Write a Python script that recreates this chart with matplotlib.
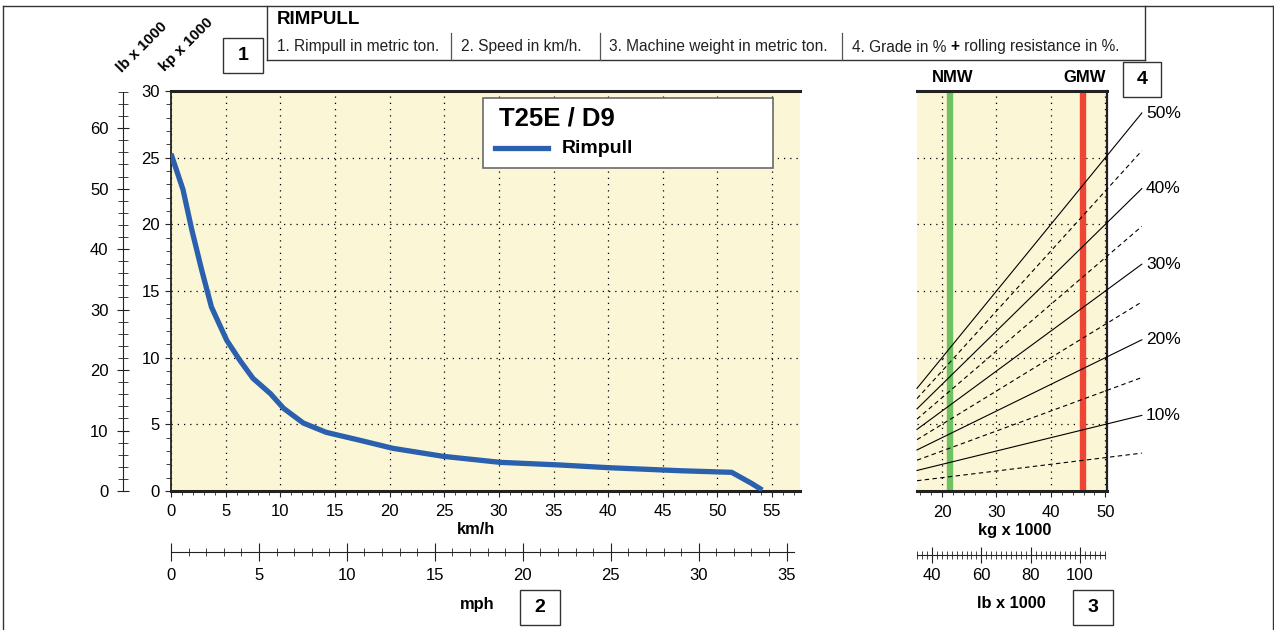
import numpy as np
import matplotlib.pyplot as plt
from matplotlib.lines import Line2D
from matplotlib.patches import Rectangle
from matplotlib.ticker import MultipleLocator

plt.rcParams['font.family'] = ['Liberation Sans', 'DejaVu Sans']

# --- chart data ---
speed_kmh = [0, 1.1, 1.9, 2.8, 3.7, 5.1, 6.3, 7.5, 9.1, 10.3, 12.1, 14.2,
             17.3, 20.3, 24.9, 30.1, 35.6, 40.0, 46.6, 51.3, 53.1, 54.1]
rimpull_t = [25.3, 22.6, 19.6, 16.6, 13.8, 11.3, 9.8, 8.45, 7.3, 6.2, 5.1, 4.4,
             3.8, 3.2, 2.6, 2.15, 1.95, 1.75, 1.52, 1.40, 0.58, 0.07]

grade_pct = [5, 10, 15, 20, 25, 30, 35, 40, 45, 50]
grade_weight_ends = [15.4, 56.7]          # kg x 1000 at line ends
grade_rimpull_left = [0.77, 1.54, 2.31, 3.08, 3.85, 4.62, 5.39, 6.16, 6.93, 7.70]
grade_rimpull_right = [2.84, 5.67, 8.51, 11.34, 14.18, 17.01, 19.85, 22.68, 25.52, 28.35]

nmw_t = 21.4
gmw_t = 45.85

header_items = ["1. Rimpull in metric ton.", "2. Speed in km/h.",
                "3. Machine weight in metric ton."]
model_name = "T25E / D9"
series_name = "Rimpull"

KMH_PER_MPH = 1.609344
LB_PER_KG = 2.20462
# -------------------------------------------

W, H = 1274, 630
BG = "#fbf6d6"
BLUE = "#2a60ad"
DARK = "#222222"
TICK_FS = 12


def fx(px):
    return px / W


def fy(py):
    return 1 - py / H


fig = plt.figure(figsize=(W / 100, H / 100), dpi=100)

# main rimpull panel
ax = fig.add_axes([fx(171), fy(491), (800 - 171) / W, (491 - 91) / H])
ax.set_facecolor(BG)
ax.set_xlim(0, 57.55)
ax.set_ylim(0, 30)
ax.plot(speed_kmh, rimpull_t, color=BLUE, lw=3.8, solid_capstyle='butt', zorder=3)
ax.xaxis.set_major_locator(MultipleLocator(5))
ax.xaxis.set_minor_locator(MultipleLocator(1))
ax.yaxis.set_major_locator(MultipleLocator(5))
ax.yaxis.set_minor_locator(MultipleLocator(1))
ax.grid(True, which='major', color='black', lw=0.9, linestyle=(0, (1, 4)))
ax.tick_params(which='both', direction='out', color=DARK, labelsize=TICK_FS)
ax.tick_params(axis='x', which='major', length=4, pad=5)
ax.tick_params(axis='x', which='minor', length=3)
ax.tick_params(axis='y', which='major', length=4, pad=4)
ax.tick_params(axis='y', which='minor', length=3.5)
ax.spines['right'].set_visible(False)
ax.spines['top'].set_linewidth(2.2)
ax.spines['bottom'].set_linewidth(2.2)
ax.spines['left'].set_linewidth(1.3)
for s in ax.spines.values():
    s.set_color(DARK)

# legend box drawn by hand to match the reference placement
fig.add_artist(Rectangle((fx(483), fy(168)), (773 - 483) / W, (168 - 98) / H,
                         transform=fig.transFigure, facecolor='white',
                         edgecolor='#6a6a6a', lw=1.2, zorder=5))
fig.text(fx(499), fy(119), model_name, fontweight='bold', fontsize=18.5,
         va='center', ha='left', zorder=6)
fig.add_artist(Line2D([fx(495), fx(548)], [fy(148), fy(148)], color=BLUE,
                      lw=3.8, transform=fig.transFigure, zorder=6))
fig.text(fx(562), fy(148), series_name, fontweight='bold', fontsize=14,
         va='center', ha='left', zorder=6)

# lb x 1000 scale on the far left
axl = fig.add_axes([fx(123), fy(491), 0.001, (491 - 91) / H])
axl.set_ylim(0, 30 * LB_PER_KG)
axl.patch.set_visible(False)
for k in ['top', 'right', 'bottom']:
    axl.spines[k].set_visible(False)
axl.spines['left'].set_bounds(0, 66)
axl.spines['left'].set_color(DARK)
axl.set_xticks([])
axl.yaxis.set_major_locator(MultipleLocator(10))
axl.yaxis.set_minor_locator(MultipleLocator(2))
axl.tick_params(axis='y', which='both', direction='inout', color=DARK, labelsize=TICK_FS)
axl.tick_params(axis='y', which='major', length=9, pad=6)
axl.tick_params(axis='y', which='minor', length=7)

# mph scale below the main panel
axm = fig.add_axes([fx(171), fy(552), (800 - 171) / W, 0.001])
axm.set_xlim(0, 57.55 / KMH_PER_MPH)
axm.patch.set_visible(False)
for k in ['top', 'right', 'left']:
    axm.spines[k].set_visible(False)
axm.spines['bottom'].set_bounds(0, 35.4)
axm.spines['bottom'].set_color(DARK)
axm.set_yticks([])
axm.xaxis.set_major_locator(MultipleLocator(5))
axm.xaxis.set_minor_locator(MultipleLocator(1))
axm.tick_params(axis='x', which='both', direction='inout', color=DARK, labelsize=TICK_FS)
axm.tick_params(axis='x', which='major', length=13, pad=5)
axm.tick_params(axis='x', which='minor', length=6)

# machine weight / grade panel
axr = fig.add_axes([fx(917), fy(491), (1107 - 917) / W, (491 - 91) / H])
axr.set_facecolor(BG)
axr.set_xlim(15.4, 50.3)
axr.set_ylim(0, 30)
axr.set_xticks([20, 30, 40, 50])
axr.xaxis.set_minor_locator(MultipleLocator(2))
axr.set_yticks([5, 10, 15, 20, 25])
axr.tick_params(axis='y', which='both', left=False, labelleft=False)
axr.tick_params(axis='x', which='both', direction='out', color=DARK, labelsize=TICK_FS)
axr.tick_params(axis='x', which='major', length=4, pad=6)
axr.tick_params(axis='x', which='minor', length=3)
axr.grid(True, which='major', color='black', lw=0.9, linestyle=(0, (1, 4)))
axr.spines['left'].set_visible(False)
axr.spines['top'].set_linewidth(2.2)
axr.spines['bottom'].set_linewidth(2.2)
axr.spines['right'].set_linewidth(1.6)
for s in axr.spines.values():
    s.set_color(DARK)

axr.axvline(nmw_t, color='#6fc162', lw=4.6, zorder=2)
axr.axvline(gmw_t, color='#ef4535', lw=4.6, zorder=2)

for g, y0, y1 in zip(grade_pct, grade_rimpull_left, grade_rimpull_right):
    ls = '-' if g % 10 == 0 else (0, (4, 3))
    axr.plot(grade_weight_ends, [y0, y1], color='black', lw=0.8, ls=ls,
             clip_on=False, zorder=3)
    if g % 10 == 0:
        axr.annotate(f"{g}%", (grade_weight_ends[1], y1), xytext=(3, 0),
                     textcoords='offset points', va='center', ha='left',
                     fontsize=12.5, annotation_clip=False)

# lb x 1000 scale below the weight panel
axw = fig.add_axes([fx(917), fy(555), (1107 - 917) / W, 0.001])
axw.set_xlim(15.4 * LB_PER_KG, 50.3 * LB_PER_KG)
axw.patch.set_visible(False)
for k in ['top', 'right', 'left']:
    axw.spines[k].set_visible(False)
axw.spines['bottom'].set_bounds(34, 110)
axw.spines['bottom'].set_color(DARK)
axw.set_yticks([])
axw.xaxis.set_major_locator(MultipleLocator(20))
axw.xaxis.set_minor_locator(MultipleLocator(2))
axw.tick_params(axis='x', which='both', direction='inout', color=DARK, labelsize=TICK_FS)
axw.tick_params(axis='x', which='major', length=11, pad=4)
axw.tick_params(axis='x', which='minor', length=6)

# axis titles
bold = dict(fontweight='bold', fontsize=11.8, ha='center', va='center')
fig.text(fx(476), fy(529), "km/h", **bold)
fig.text(fx(477), fy(605), "mph", **bold)
fig.text(fx(1015), fy(531), "kg x 1000", **bold)
fig.text(fx(1011), fy(604), "lb x 1000", **bold)
fig.text(fx(953), fy(78), "NMW", fontweight='bold', fontsize=12, ha='center', va='center')
fig.text(fx(1085), fy(78), "GMW", fontweight='bold', fontsize=12, ha='center', va='center')
fig.text(fx(142), fy(47), "lb x 1000", rotation=45, fontweight='bold', fontsize=11,
         ha='center', va='center')
fig.text(fx(186), fy(45), "kp x 1000", rotation=45, fontweight='bold', fontsize=11,
         ha='center', va='center')

# outer frame and header table
frame = dict(color='#333333', lw=1.0, transform=fig.transFigure)
fig.add_artist(Line2D([fx(3), fx(1273)], [fy(6), fy(6)], **frame))
fig.add_artist(Line2D([fx(3), fx(3)], [fy(6), fy(630)], **frame))
fig.add_artist(Line2D([fx(1273), fx(1273)], [fy(6), fy(630)], **frame))
fig.add_artist(Line2D([fx(266.5), fx(266.5)], [fy(6), fy(60)], **frame))
fig.add_artist(Line2D([fx(1145), fx(1145)], [fy(6), fy(60)], **frame))
fig.add_artist(Line2D([fx(266.5), fx(1145)], [fy(60), fy(60)], **frame))
for xd in [451, 600, 842]:
    fig.add_artist(Line2D([fx(xd), fx(xd)], [fy(33), fy(60)], color='#555555',
                          lw=0.9, transform=fig.transFigure))

fig.text(fx(277), fy(19), "RIMPULL", fontweight='bold', fontsize=13.5, va='center')
for xt, txt in zip([277, 461, 609], header_items):
    fig.text(fx(xt), fy(47), txt, fontsize=11.2, va='center', color='#222222')
t4 = fig.text(fx(852), fy(47), "4. Grade in % ", fontsize=11.2, va='center', color='#222222')
fig.canvas.draw()
renderer = fig.canvas.get_renderer()
bb = t4.get_window_extent(renderer=renderer)
t5 = fig.text(bb.x1 / W, fy(47), "+", fontsize=11.2, va='center', fontweight='bold')
bb2 = t5.get_window_extent(renderer=renderer)
fig.text(bb2.x1 / W, fy(47), " rolling resistance in %.", fontsize=11.2, va='center',
         color='#222222')

# numbered boxes
for (x0, y0, x1, y1), num in zip([(223, 38, 263, 73), (520, 590, 560, 625),
                                  (1073, 590, 1113, 625), (1123, 62, 1161, 97)],
                                 ["1", "2", "3", "4"]):
    fig.add_artist(Rectangle((fx(x0), fy(y1)), (x1 - x0) / W, (y1 - y0) / H,
                             transform=fig.transFigure, fill=False,
                             edgecolor='#333333', lw=1.0))
    fig.text(fx((x0 + x1) / 2), fy((y0 + y1) / 2), num, fontweight='bold',
             fontsize=14, ha='center', va='center')

fig.savefig("out.png", dpi=100)
